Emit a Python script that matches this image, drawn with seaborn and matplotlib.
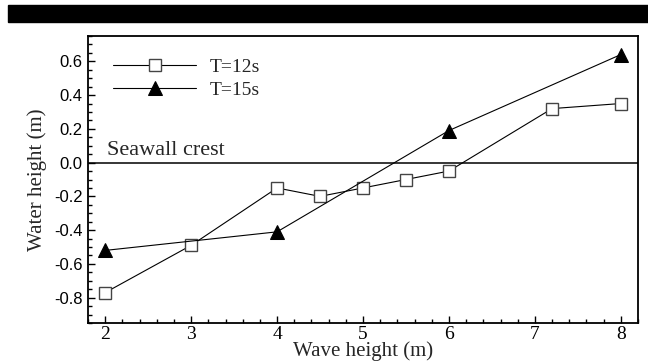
import pandas as pd
import seaborn as sns
import matplotlib.pyplot as plt
from matplotlib.patches import Rectangle
from matplotlib.ticker import MultipleLocator

# Data
wave_12 = [2, 3, 4, 4.5, 5, 5.5, 6, 7.2, 8]
water_12 = [-0.77, -0.49, -0.15, -0.20, -0.15, -0.10, -0.05, 0.32, 0.35]
wave_15 = [2, 4, 6, 8]
water_15 = [-0.52, -0.41, 0.19, 0.64]
series_labels = ["T=12s", "T=15s"]
y_ticks = [0.6, 0.4, 0.2, 0.0, -0.2, -0.4, -0.6, -0.8]


def build_frames():
    df12 = pd.DataFrame({"wave": wave_12, "water": water_12})
    df15 = pd.DataFrame({"wave": wave_15, "water": water_15})
    return df12, df15


def plot_chart(df12, df15):
    sns.set_style("ticks")
    plt.rcParams['font.family'] = ['Liberation Serif', 'DejaVu Serif']
    plt.rcParams.update({
        "xtick.direction": "in", "ytick.direction": "in",
        "xtick.major.size": 5, "ytick.major.size": 5,
        "xtick.minor.size": 3, "ytick.minor.size": 3,
        "xtick.major.width": 1, "ytick.major.width": 1,
        "xtick.minor.width": 1, "ytick.minor.width": 1,
        "xtick.minor.visible": True, "ytick.minor.visible": True,
    })

    fig = plt.figure(figsize=(6.48, 3.63), dpi=100)
    ax = fig.add_axes([88 / 648, 40 / 363, 550 / 648, 287 / 363])

    # black banner along the top
    fig.patches.append(Rectangle((8 / 648, 1 - 22 / 363), 1, 17 / 363,
                                 transform=fig.transFigure, color="black", zorder=0))

    ax.axhline(0, color="black", lw=1.1, zorder=1)
    ax.text(2.02, 0.015, "Seawall crest", fontsize=16, va="bottom", ha="left")

    sns.lineplot(data=df12, x="wave", y="water", ax=ax, color="black", lw=0.8,
                 marker="s", markersize=8.5, markerfacecolor="white",
                 markeredgecolor="#444444", markeredgewidth=1.0, label=series_labels[0])
    sns.lineplot(data=df15, x="wave", y="water", ax=ax, color="black", lw=0.8,
                 marker="^", markersize=10, markerfacecolor="black",
                 markeredgecolor="black", label=series_labels[1])

    ax.set_xlim(1.8, 8.2)
    ax.set_ylim(-0.95, 0.75)
    ax.xaxis.set_major_locator(MultipleLocator(1))
    ax.xaxis.set_minor_locator(MultipleLocator(0.2))
    ax.set_yticks(y_ticks)
    ax.yaxis.set_minor_locator(MultipleLocator(0.05))
    ax.set_yticklabels([f"{v:.1f}" for v in y_ticks], family="Liberation Sans", fontsize=12)
    ax.tick_params(axis="both", which="both", top=False, right=False, colors="black")
    ax.tick_params(axis="x", labelsize=14, pad=2)
    ax.tick_params(axis="y", pad=4)
    for s in ax.spines.values():
        s.set_color("black")
        s.set_linewidth(1.3)

    ax.set_xlabel("Wave height (m)", fontsize=15, labelpad=-1)
    ax.set_ylabel("Water height (m)", fontsize=15, labelpad=5)

    ax.legend(loc="upper left", frameon=False, fontsize=14, handlelength=4.3,
              handletextpad=0.67, bbox_to_anchor=(0.031, 0.95), borderaxespad=0,
              labelspacing=0.3)

    plt.savefig("out.png", dpi=100)


if __name__ == "__main__":
    df12, df15 = build_frames()
    plot_chart(df12, df15)
